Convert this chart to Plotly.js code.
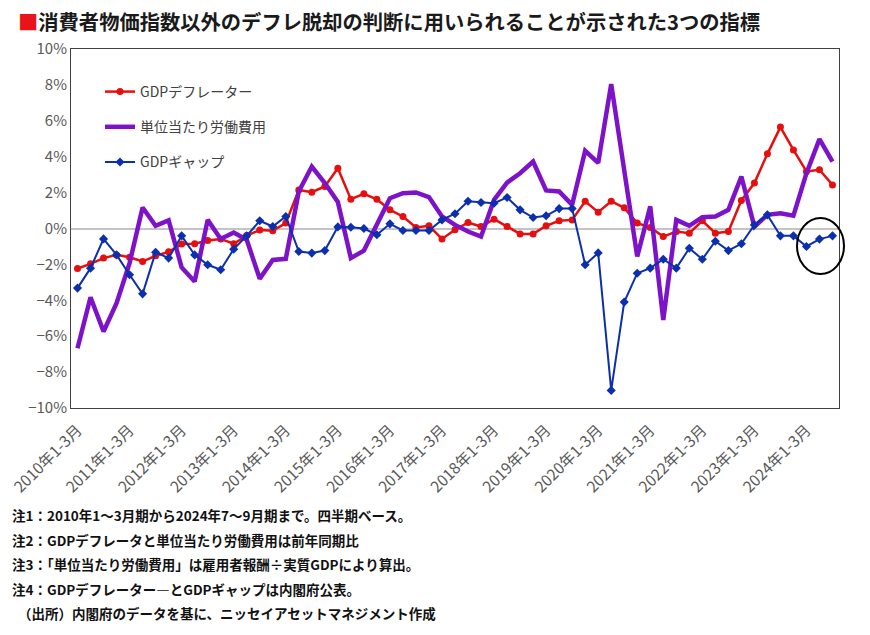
<!DOCTYPE html>
<html>
<head>
<meta charset="utf-8">
<script src="https://cdn.plot.ly/plotly-3.0.1.min.js"></script>
<style>
  html, body { margin: 0; padding: 0; background: #fff; }
  #chart { width: 870px; height: 635px; }
</style>
</head>
<body>
<div id="chart"></div>
<script>
// quarters 2010年1-3月 .. 2024年7-9月
const years = [2010, 2011, 2012, 2013, 2014, 2015, 2016, 2017, 2018, 2019, 2020, 2021, 2022, 2023, 2024];
const quarterNames = ['1-3月', '4-6月', '7-9月', '10-12月'];
const quarters = [];
years.forEach(y => quarterNames.forEach(q => quarters.push(y + '年' + q)));
quarters.splice(59); // last is 2024年7-9月

const tickLabels = years.map(y => y + '年1-3月');

// GDPデフレーター (前年同期比, %)
const gdpDeflator = [
  -2.23, -1.97, -1.65, -1.47, -1.60, -1.84, -1.52, -1.30, -0.87, -0.85,
  -0.67, -0.58, -0.85, -0.39, -0.09, -0.13, 0.30, 2.15, 2.02, 2.34,
  3.36, 1.63, 1.93, 1.63, 1.04, 0.67, 0.06, 0.15, -0.58, -0.07,
  0.33, 0.11, 0.52, 0.11, -0.30, -0.30, 0.15, 0.43, 0.48, 1.52,
  0.91, 1.52, 1.15, 0.30, 0.06, -0.45, -0.17, -0.26, 0.43, -0.26,
  -0.17, 1.56, 2.53, 4.16, 5.65, 4.38, 3.18, 3.27, 2.43
];

// 単位当たり労働費用 (前年同期比, %)
const unitLaborCost = [
  -6.67, -3.83, -5.74, -4.16, -1.93, 1.17, 0.15, 0.45, -2.17, -2.95,
  0.48, -0.58, -0.22, -0.63, -2.80, -1.75, -1.69, 2.06, 3.45, 2.53,
  1.48, -1.65, -1.23, 0.20, 1.69, 1.97, 2.01, 1.75, 0.67, 0.20,
  -0.17, -0.45, 1.60, 2.56, 3.08, 3.73, 2.12, 2.06, 1.32, 4.33,
  3.66, 8.05, 3.20, -1.56, 1.23, -5.09, 0.48, 0.15, 0.63, 0.67,
  1.04, 2.90, 0.11, 0.76, 0.85, 0.71, 3.08, 4.98, 3.73
];

// GDPギャップ (%)
const gdpGap = [
  -3.32, -2.21, -0.58, -1.47, -2.58, -3.64, -1.32, -1.65, -0.41, -1.47,
  -2.02, -2.30, -1.15, -0.41, 0.43, 0.11, 0.67, -1.28, -1.37, -1.23,
  0.09, 0.07, 0.00, -0.35, 0.26, -0.11, -0.11, -0.11, 0.48, 0.82,
  1.52, 1.45, 1.41, 1.73, 1.04, 0.61, 0.71, 1.11, 1.11, -2.02,
  -1.36, -9.02, -4.10, -2.49, -2.21, -1.71, -2.21, -1.10, -1.71, -0.71,
  -1.23, -0.85, 0.20, 0.76, -0.41, -0.41, -1.00, -0.59, -0.41
];

const notes = [
  '注1：2010年1～3月期から2024年7～9月期まで。四半期ベース。',
  '注2：GDPデフレータと単位当たり労働費用は前年同期比',
  '注3：「単位当たり労働費用」は雇用者報酬÷実質GDPにより算出。',
  '注4：GDPデフレーター―とGDPギャップは内閣府公表。',
  '（出所）内閣府のデータを基に、ニッセイアセットマネジメント作成'
];

const JP = '"Noto Sans CJK JP", "Noto Sans", sans-serif';

// plot box in pixels: left 71, right 839, top 49, bottom 408
const plotH = 408 - 49;
const plotW = 839 - 71;
const py = px => (408 - px) / plotH;
const pxX = px => (px - 71) / plotW;

const traces = [
  {
    name: 'GDPデフレーター',
    x: quarters, y: gdpDeflator,
    type: 'scatter', mode: 'lines+markers',
    line: { color: '#e50f0f', width: 2.5 },
    marker: { symbol: 'circle', size: 7, color: '#e50f0f' },
    legendgroup: 'a'
  },
  {
    name: '単位当たり労働費用',
    x: quarters, y: unitLaborCost,
    type: 'scatter', mode: 'lines',
    line: { color: '#7d12c8', width: 4.5 },
    legendgroup: 'b'
  },
  {
    name: 'GDPギャップ',
    x: quarters, y: gdpGap,
    type: 'scatter', mode: 'lines+markers',
    line: { color: '#0c2fae', width: 2 },
    marker: { symbol: 'diamond', size: 7, color: '#0c2fae' },
    legendgroup: 'c'
  }
];

const annotations = notes.map((t, i) => ({
  text: t,
  xref: 'paper', yref: 'paper',
  x: pxX(i === 4 ? 16 : 10), y: py(515 + i * 24.5),
  xanchor: 'left', yanchor: 'middle',
  showarrow: false,
  font: { family: JP, size: 13.5, color: '#111', weight: 'bold' }
}));

const layout = {
  width: 870, height: 635,
  margin: { l: 71, r: 31, t: 49, b: 227, autoexpand: false },
  paper_bgcolor: '#fff', plot_bgcolor: '#fff',
  title: {
    text: '<span style="color:#e8141a">■</span>消費者物価指数以外のデフレ脱却の判断に用いられることが示された3つの指標',
    x: 18 / 870, xanchor: 'left', xref: 'container',
    y: 1 - 23 / 635, yanchor: 'middle', yref: 'container',
    font: { family: JP, size: 20.3, color: '#1a1a1a', weight: 'bold' }
  },
  showlegend: true,
  legend: {
    x: pxX(100), y: py(76), xanchor: 'left', yanchor: 'top',
    bgcolor: 'rgba(0,0,0,0)',
    font: { family: JP, size: 14, color: '#404040' },
    traceorder: 'grouped', tracegroupgap: 14
  },
  xaxis: {
    type: 'category',
    range: [-0.5, quarters.length - 0.5],
    tickvals: tickLabels, ticktext: tickLabels,
    tickangle: -45,
    ticklabelstandoff: 6,
    ticks: '', showgrid: false, zeroline: false,
    showline: true, mirror: true, linecolor: '#404040', linewidth: 1,
    tickfont: { family: JP, size: 15.5, color: '#595959' },
    automargin: false
  },
  yaxis: {
    range: [-10, 10], dtick: 2,
    ticksuffix: '%',
    ticks: '', showgrid: false,
    zeroline: true, zerolinecolor: '#c4c4c4', zerolinewidth: 2,
    showline: true, mirror: true, linecolor: '#404040', linewidth: 1,
    tickfont: { family: JP, size: 15, color: '#595959' },
    automargin: false
  },
  shapes: [
    {
      type: 'circle', xref: 'paper', yref: 'paper',
      x0: pxX(797), x1: pxX(844), y0: py(274), y1: py(218),
      line: { color: '#000', width: 2 }
    }
  ],
  annotations: annotations
};

Plotly.newPlot('chart', traces, layout, { displayModeBar: false, staticPlot: true });
</script>
</body>
</html>
